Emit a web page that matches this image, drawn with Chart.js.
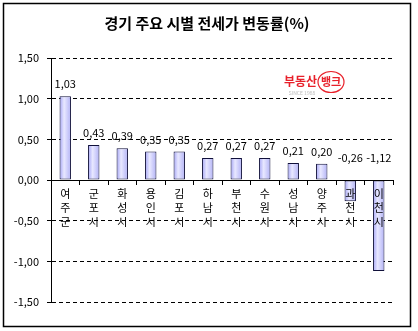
<!DOCTYPE html>
<html><head><meta charset="utf-8">
<script src="https://cdn.jsdelivr.net/npm/chart.js@4"></script>
<style>html,body{margin:0;padding:0;background:#fff}</style>
</head><body>
<canvas id="c" width="418" height="331"></canvas>
<script>
const titleText = '경기 주요 시별 전세가 변동률(%)';
const categories = ['여주군','군포시','화성시','용인시','김포시','하남시','부천시','수원시','성남시','양주시','과천시','이천시'];
const values = [1.03,0.43,0.39,0.35,0.35,0.27,0.27,0.27,0.21,0.20,-0.26,-1.12];
const yTicks = [-1.5,-1.0,-0.5,0,0.5,1.0,1.5];

const FONT = '"Noto Sans CJK KR", "DejaVu Sans", sans-serif';
const fmt = v => (v < 0 ? '-' : '') + Math.abs(v).toFixed(2).replace('.', ',');

let gradients = [];

const decor = {
  id: 'decor',
  beforeDraw(chart) {
    const ctx = chart.ctx;
    ctx.save();
    ctx.fillStyle = '#fff';
    ctx.fillRect(0,0,chart.width,chart.height);
    ctx.restore();
  },
  afterLayout(chart) {
    const xs = chart.scales.x;
    const ctx = chart.ctx;
    const w = xs.width / categories.length * 0.4;
    gradients = categories.map((c, i) => {
      const cx = xs.getPixelForValue(i);
      const g = ctx.createLinearGradient(cx - w/2, 0, cx + w/2, 0);
      g.addColorStop(0, '#a4a4f6');
      g.addColorStop(0.4, '#e8e8ff');
      g.addColorStop(1, '#b2b2f6');
      return g;
    });
  },
  afterDraw(chart) {
    const ctx = chart.ctx;
    ctx.save();
    // border
    ctx.strokeStyle = '#000'; ctx.lineWidth = 1.5;
    ctx.strokeRect(3.5, 3.5, 407, 323);
    // title
    ctx.fillStyle = '#000';
    ctx.font = 'bold 15px ' + FONT;
    ctx.textAlign = 'center'; ctx.textBaseline = 'middle';
    ctx.fillText(titleText, 207, 23);
    // logo
    ctx.fillStyle = '#e8202a';
    ctx.font = 'bold 12px ' + FONT;
    ctx.textAlign = 'left';
    ctx.fillText('부동산', 284, 81);
    ctx.strokeStyle = '#e8202a'; ctx.lineWidth = 1.2;
    ctx.beginPath(); ctx.ellipse(331, 82, 13, 10.5, 0, 0, Math.PI*2); ctx.stroke();
    ctx.textAlign = 'center';
    ctx.font = 'bold 11px ' + FONT;
    ctx.fillText('뱅크', 331, 82);
    ctx.fillStyle = '#bbb';
    ctx.font = '5px ' + FONT;
    ctx.fillText('SINCE 1988', 302, 93);
    ctx.restore();
  },
  afterDatasetsDraw(chart) {
    const ctx = chart.ctx;
    const meta = chart.getDatasetMeta(0);
    const y0 = chart.scales.y.getPixelForValue(0);
    ctx.save();
    ctx.fillStyle = '#000';
    ctx.font = '11px ' + FONT;
    ctx.textAlign = 'center'; ctx.textBaseline = 'middle';
    meta.data.forEach((bar, i) => {
      const v = values[i];
      const y = v >= 0 ? bar.y - 12 : y0 - 22;
      ctx.fillText(fmt(v), bar.x, y);
    });
    ctx.restore();
  }
};

new Chart(document.getElementById('c'), {
  type: 'bar',
  data: {
    labels: categories.map(s => s.split('')),
    datasets: [{
      data: values,
      backgroundColor: c => gradients[c.dataIndex] || '#c6c6f7',
      borderColor: '#10103a',
      borderWidth: 1,
      borderSkipped: false,
      categoryPercentage: 1,
      barPercentage: 0.4
    }]
  },
  options: {
    responsive: false,
    animation: false,
    layout: { padding: { left: 0, right: 25, top: 58, bottom: 29 } },
    plugins: { legend: { display: false }, tooltip: { enabled: false }, title: { display: false } },
    scales: {
      x: {
        position: { y: 0 },
        grid: { drawOnChartArea: false, drawTicks: true, tickLength: 4, color: '#000', offset: true, z: 1 },
        border: { display: true, color: '#000', width: 1, z: 1 },
        ticks: { z: 1, color: '#000', font: { family: FONT, size: 11, lineHeight: 1.25 }, padding: 3, maxRotation: 0, autoSkip: false }
      },
      y: {
        min: -1.5, max: 1.5,
        afterBuildTicks(scale) { scale.ticks = yTicks.map(v => ({ value: v })); },
        afterFit(scale) { scale.width = 51; },
        grid: { color: '#000', lineWidth: 1, tickLength: 4, tickColor: '#000', drawTicks: true },
        border: { display: true, color: '#000', width: 1, dash: [4, 3] },
        ticks: { color: '#000', font: { family: FONT, size: 11 }, padding: 8, callback: v => fmt(v) }
      }
    }
  },
  plugins: [decor]
});
</script>
</body></html>
